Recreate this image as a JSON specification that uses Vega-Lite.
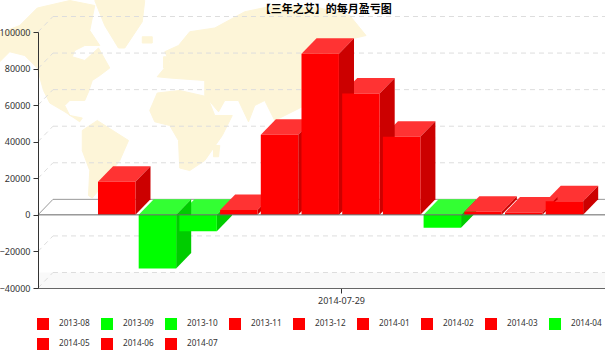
{
"$schema":"https://vega.github.io/schema/vega-lite/v6.json",
"width":567,"height":256,
"autosize":"none",
"padding":{"left":38,"top":32,"right":0,"bottom":67},
"background":"white",
"title":{"text":"【三年之艾】的每月盈亏图","anchor":"start","dx":262,"offset":-16,"font":"Noto Sans CJK SC","fontSize":11,"fontWeight":"bold","color":"#000000"},
"config":{"view":{"stroke":null},"font":"Noto Sans","legend":{"gridAlign":"all"}},
"datasets":{"months":[
{"month":"2013-08","value":18150},
{"month":"2013-09","value":-29300},
{"month":"2013-10","value":-8900},
{"month":"2013-11","value":2600},
{"month":"2013-12","value":43760},
{"month":"2014-01","value":88070},
{"month":"2014-02","value":66400},
{"month":"2014-03","value":42660},
{"month":"2014-04","value":-7100},
{"month":"2014-05","value":1640},
{"month":"2014-06","value":1300},
{"month":"2014-07","value":7500}
]},
"data":{"name":"months"},
"transform":[
{"window":[{"op":"row_number","as":"slot"}]},
{"calculate":"datum.slot+0.92","as":"slotEnd"},
{"calculate":"max(datum.value,0)","as":"hi"},
{"calculate":"min(datum.value,0)","as":"lo"}
],
"layer":[
{"data":{"values":[
{"type":"Feature","properties":{"name":"North America"},"geometry":{"type":"Polygon","coordinates":[[[-137,76],[-121,82],[-107,96],[-81,102],[-61,98],[-65,78],[-57,66],[-69,66],[-77,62],[-79,57],[-69,54],[-58,64],[-49,48],[-57,42],[-63,38],[-66,29],[-69,22],[-81,22],[-85,18],[-81,10],[-71,8],[-73,5],[-85,13],[-97,20],[-102,30],[-107,48],[-117,58],[-129,61],[-137,53],[-137,76]]]}},
{"type":"Feature","properties":{"name":"Greenland"},"geometry":{"type":"Polygon","coordinates":[[[-61,102],[-21,102],[-23,85],[-37,64],[-42,64],[-53,82],[-61,102]]]}},
{"type":"Feature","properties":{"name":"South America"},"geometry":{"type":"Polygon","coordinates":[[[-71,-2],[-59,6],[-45,-3],[-34,-10],[-41,-26],[-50,-38],[-58,-50],[-63,-56],[-66,-54],[-65,-34],[-71,-18],[-71,-2]]]}},
{"type":"Feature","properties":{"name":"Africa"},"geometry":{"type":"Polygon","coordinates":[[[-17,14],[-11,28],[7,30],[29,25],[35,10],[49,10],[41,-6],[27,-26],[15,-34],[7,-32],[6,-10],[-1,2],[-13,5],[-17,14]]]}},
{"type":"Feature","properties":{"name":"Madagascar"},"geometry":{"type":"Polygon","coordinates":[[[34,-14],[39,-14],[38,-23],[34,-23],[34,-14]]]}},
{"type":"Feature","properties":{"name":"Eurasia"},"geometry":{"type":"Polygon","coordinates":[[[-11,41],[-1,53],[-5,61],[6,66],[15,77],[35,80],[59,93],[83,98],[119,96],[143,90],[156,74],[139,70],[131,54],[119,34],[107,18],[91,10],[83,6],[75,22],[67,18],[62,5],[54,22],[43,22],[38,13],[27,26],[27,38],[-1,40],[-11,41]]]}},
{"type":"Feature","properties":{"name":"Britain"},"geometry":{"type":"Polygon","coordinates":[[[-6,57],[-2,57],[-2,48],[-6,48],[-6,57]]]}},
{"type":"Feature","properties":{"name":"Iceland"},"geometry":{"type":"Polygon","coordinates":[[[-23,73],[-15,73],[-15,68],[-23,68],[-23,73]]]}}
]},
"transform":[],
"projection":{"type":"identity","reflectY":true,"scale":1.25,"translate":[133,96]},
"mark":{"type":"geoshape","fill":"#fdf5d8","stroke":"#fdf5d8","strokeWidth":1,"clip":false},
"encoding":{}},
{"data":{"values":[{"from":-0.474,"to":13.457,"low":-40000,"high":-31520}]},
"transform":[],
"mark":{"type":"rect","fill":"#f9f9f9"},
"encoding":{
"x":{"field":"from","type":"quantitative","scale":{"domain":[-0.474,13.457],"nice":false,"zero":false},"title":null,
"axis":{"values":[6.97],"tickCount":20,"labelExpr":"'2014-07-29'","grid":false,"zindex":1,"domainColor":"#666666","tickColor":"#333333","tickSize":5,"labelColor":"#333333","labelFontSize":9,"labelFont":"Noto Sans","labelPadding":3,"labelFlush":false}},
"x2":{"field":"to"},
"y":{"field":"low","type":"quantitative","scale":{"domain":[-40000,100000],"nice":false,"zero":false},"title":null,
"axis":{"values":[-40000,-20000,0,20000,40000,60000,80000,100000],"tickCount":20,"format":"d","grid":false,"zindex":1,"labelOverlap":false,"labelFlush":false,"labelBound":false,"domainColor":"#333333","tickColor":"#333333","tickSize":5,"labelColor":"#333333","labelFontSize":9,"labelFont":"Noto Sans","labelPadding":3}},
"y2":{"field":"high"}}},
{"data":{"values":[{"tick":-40000},{"tick":-20000},{"tick":20000},{"tick":40000},{"tick":60000},{"tick":80000},{"tick":100000}]},
"transform":[{"calculate":"datum.tick+8480","as":"back"},{"calculate":"-0.106","as":"from"},{"calculate":"13.457","as":"to"}],
"mark":{"type":"rule","stroke":"#dddddd","strokeWidth":1,"strokeDash":[5,4]},
"encoding":{"x":{"field":"from","type":"quantitative","title":null},"x2":{"field":"to"},"y":{"field":"back","type":"quantitative","title":null}}},
{"data":{"values":[{"tick":-40000},{"tick":-20000},{"tick":20000},{"tick":40000},{"tick":60000},{"tick":80000},{"tick":100000}]},
"transform":[{"calculate":"datum.tick+8480","as":"back"},{"calculate":"-0.474","as":"from"},{"calculate":"-0.106","as":"to"}],
"mark":{"type":"rule","stroke":"#dddddd","strokeWidth":1,"strokeDash":[5,4]},
"encoding":{"x":{"field":"from","type":"quantitative","title":null},"x2":{"field":"to"},"y":{"field":"tick","type":"quantitative","title":null},"y2":{"field":"back"}}},
{"data":{"values":[{"tick":0}]},
"transform":[{"calculate":"datum.tick+8480","as":"back"},{"calculate":"-0.106","as":"from"},{"calculate":"13.457","as":"to"}],
"mark":{"type":"rule","stroke":"#999999","strokeWidth":1},
"encoding":{"x":{"field":"from","type":"quantitative","title":null},"x2":{"field":"to"},"y":{"field":"back","type":"quantitative","title":null}}},
{"data":{"values":[{"tick":0}]},
"transform":[{"calculate":"datum.tick+8480","as":"back"},{"calculate":"-0.474","as":"from"},{"calculate":"-0.106","as":"to"}],
"mark":{"type":"rule","stroke":"#999999","strokeWidth":1},
"encoding":{"x":{"field":"from","type":"quantitative","title":null},"x2":{"field":"to"},"y":{"field":"tick","type":"quantitative","title":null},"y2":{"field":"back"}}},
{"transform":[
{"filter":"datum.value<0"},
{"calculate":"[0,1,2,3]","as":"k"},{"flatten":["k"]},
{"calculate":"datum.slot+[0,0.37,0.92,1.29][datum.k]","as":"px"},
{"calculate":"datum.hi+[0,0,0,8480][datum.k]","as":"near"},
{"calculate":"datum.hi+[0,8480,8480,8480][datum.k]","as":"far"}],
"mark":{"type":"area","interpolate":"linear","fill":"#33ff33","orient":"vertical"},
"encoding":{"x":{"field":"px","type":"quantitative","title":null},"y":{"field":"near","type":"quantitative","title":null,"stack":null},"y2":{"field":"far"},"detail":{"field":"month","type":"nominal"}}},
{"transform":[
{"filter":"datum.value<0"},
{"calculate":"[0,1]","as":"k"},{"flatten":["k"]},
{"calculate":"datum.slotEnd+[0,0.37][datum.k]","as":"px"},
{"calculate":"datum.lo+[0,8480][datum.k]","as":"near"},
{"calculate":"datum.hi+[0,8480][datum.k]","as":"far"}],
"mark":{"type":"area","interpolate":"linear","fill":"#00cc00","orient":"vertical"},
"encoding":{"x":{"field":"px","type":"quantitative","title":null},"y":{"field":"near","type":"quantitative","title":null,"stack":null},"y2":{"field":"far"},"detail":{"field":"month","type":"nominal"}}},
{"transform":[
{"filter":"datum.value>=0"},
{"calculate":"[0,1,2,3]","as":"k"},{"flatten":["k"]},
{"calculate":"datum.slot+[0,0.37,0.92,1.29][datum.k]","as":"px"},
{"calculate":"datum.hi+[0,0,0,8480][datum.k]","as":"near"},
{"calculate":"datum.hi+[0,8480,8480,8480][datum.k]","as":"far"}],
"mark":{"type":"area","interpolate":"linear","fill":"#ff3333","orient":"vertical"},
"encoding":{"x":{"field":"px","type":"quantitative","title":null},"y":{"field":"near","type":"quantitative","title":null,"stack":null},"y2":{"field":"far"},"detail":{"field":"month","type":"nominal"}}},
{"transform":[
{"filter":"datum.value>=0"},
{"calculate":"[0,1]","as":"k"},{"flatten":["k"]},
{"calculate":"datum.slotEnd+[0,0.37][datum.k]","as":"px"},
{"calculate":"datum.lo+[0,8480][datum.k]","as":"near"},
{"calculate":"datum.hi+[0,8480][datum.k]","as":"far"}],
"mark":{"type":"area","interpolate":"linear","fill":"#cc0000","orient":"vertical"},
"encoding":{"x":{"field":"px","type":"quantitative","title":null},"y":{"field":"near","type":"quantitative","title":null,"stack":null},"y2":{"field":"far"},"detail":{"field":"month","type":"nominal"}}},
{"mark":{"type":"rect"},
"encoding":{"x":{"field":"slot","type":"quantitative","title":null},"x2":{"field":"slotEnd"},"y":{"field":"hi","type":"quantitative","title":null},"y2":{"field":"lo"},
"color":{"field":"month","type":"nominal","scale":{"domain":["2013-08","2013-09","2013-10","2013-11","2013-12","2014-01","2014-02","2014-03","2014-04","2014-05","2014-06","2014-07"],"range":["#ff0000","#00ff00","#00ff00","#ff0000","#ff0000","#ff0000","#ff0000","#ff0000","#00ff00","#ff0000","#ff0000","#ff0000"]},
"legend":{"orient":"none","legendX":-2,"legendY":285,"columns":9,"direction":"horizontal","title":null,"symbolType":"square","symbolSize":144,"symbolOpacity":1,"labelFontSize":8.2,"labelFont":"Noto Sans","labelColor":"#333333","labelOffset":9,"columnPadding":10,"rowPadding":7}}}},
{"data":{"values":[{"tick":0}]},"transform":[],
"mark":{"type":"rule","stroke":"#666666","strokeWidth":1},
"encoding":{"y":{"field":"tick","type":"quantitative","title":null}}}
]
}
